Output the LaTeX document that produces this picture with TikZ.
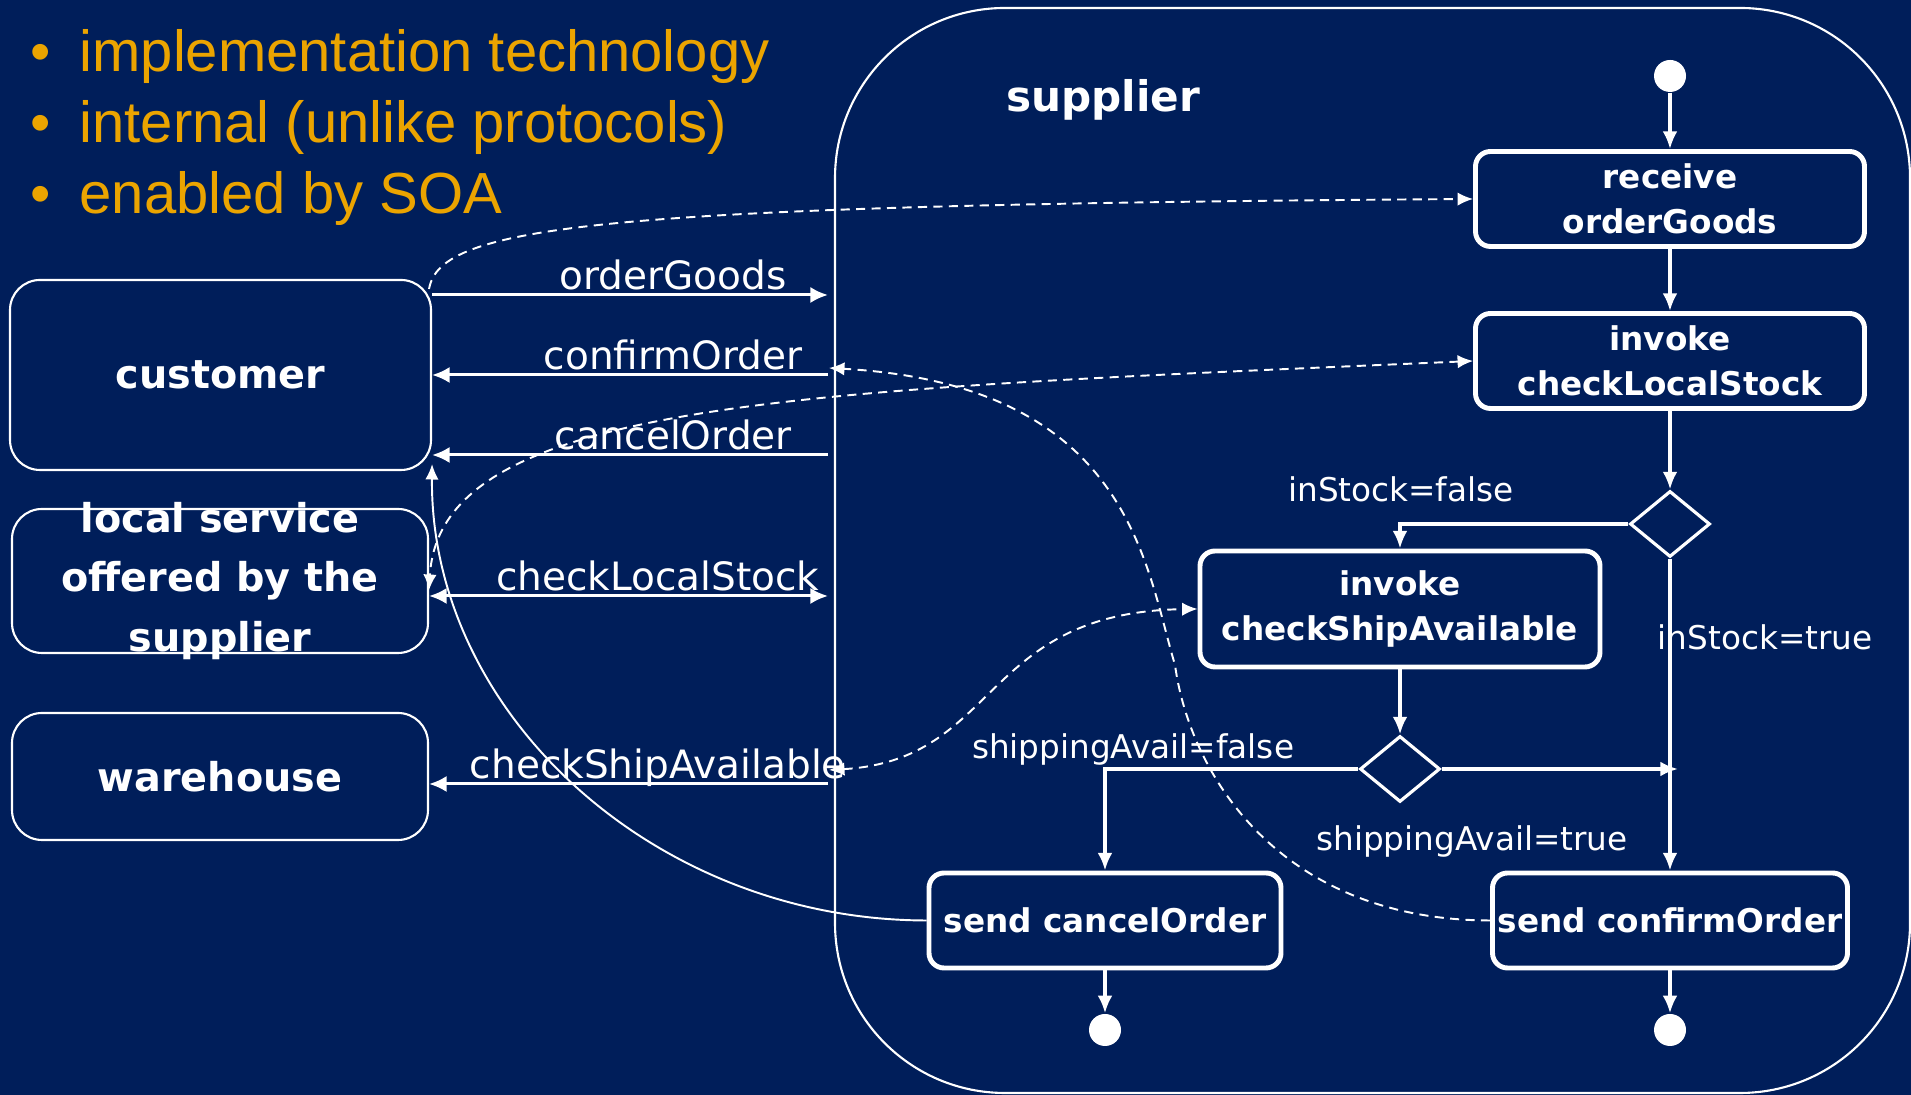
\documentclass[tikz,border=0pt]{standalone}
\usepackage{fontspec}
\setmainfont{DejaVu Sans}
\newfontfamily\bulletfont{Liberation Sans}
\usetikzlibrary{shapes}
\usetikzlibrary{arrows.meta}
\definecolor{navy}{RGB}{0,30,90}
\definecolor{amber}{RGB}{235,164,0}
\tikzstyle{actor}=[rectangle, rounded corners=0.3cm, draw=white, line width=0.6pt, text=white, font=\bfseries\fontsize{11.3}{17}\selectfont, align=center]
\tikzstyle{actortext}=[text=white, font=\bfseries\fontsize{11.3}{17}\selectfont, align=center]
\tikzstyle{activity}=[rectangle, rounded corners=0.15cm, draw=white, line width=1.4pt, text=white, font=\bfseries\fontsize{9.3}{12.8}\selectfont, align=center, inner sep=1pt, minimum height=0.95cm]
\tikzstyle{decision}=[diamond, draw=white, line width=0.9pt, minimum width=0.8cm, minimum height=0.66cm, inner sep=0pt]
\tikzstyle{pseudo}=[circle, fill=white, minimum size=0.32cm, inner sep=0pt]
\tikzstyle{flow}=[draw=white, line width=0.9pt, ->]
\tikzstyle{msg}=[draw=white, line width=0.85pt, shorten >=0.06cm, >={Latex[length=5pt,width=4.6pt]}]
\tikzstyle{msglabel}=[text=white, font=\fontsize{11.1}{13}\selectfont, above, inner sep=1pt, text depth=0pt]
\tikzstyle{guard}=[text=white, font=\fontsize{9.3}{11}\selectfont, anchor=base, inner sep=0pt]
\tikzstyle{link}=[draw=white, line width=0.55pt, dash pattern=on 2.6pt off 1.8pt, >={Latex[length=4.4pt,width=3.8pt]}]
\tikzstyle{thinline}=[draw=white, line width=0.55pt, >={Latex[length=4.4pt,width=3.8pt]}]
\tikzstyle{bulletline}=[text=amber, font=\bulletfont\fontsize{16.5}{20}\selectfont, anchor=base west, inner sep=0pt]

\begin{document}
\begin{tikzpicture}[>={Latex[length=5pt,width=4.2pt]}]
  %\draw [help lines, step=.5] (0,0) grid (19.11,10.95);
  \useasboundingbox (0,0) rectangle (19.11,10.95);
  \fill[navy] (0,0) rectangle (19.11,10.95);

  \node[bulletline] (b1) at (0.30,10.23) {•\hspace{0.286cm}implementation technology};
  \node[bulletline] (b2) at (0.30,9.525) {•\hspace{0.286cm}internal (unlike protocols)};
  \node[bulletline] (b3) at (0.30,8.815) {•\hspace{0.286cm}enabled by SOA};

  \node[actor, minimum width=4.21cm, minimum height=1.9cm] (customer) at (2.205,7.20) {customer};
  \node[actor, minimum width=4.16cm, minimum height=1.44cm, label={[actortext]center:{local service\\offered by the\\supplier}}] (localsrv) at (2.20,5.14) {};
  \node[actor, minimum width=4.16cm, minimum height=1.27cm] (warehouse) at (2.20,3.185) {warehouse};

  \node[draw=white, line width=0.6pt, rounded corners=1.7cm, minimum width=10.75cm, minimum height=10.85cm] (supplier) at (13.725,5.445) {};
  \node[text=white, font=\bfseries\fontsize{12}{14}\selectfont, anchor=base] (suptitle) at (11.03,9.83) {supplier};

  \node[pseudo] (start) at (16.70,10.19) {};
  \node[activity, minimum width=3.89cm] (recv) at (16.70,8.96) {receive\\orderGoods};
  \node[activity, minimum width=3.89cm] (invLS) at (16.70,7.34) {invoke\\checkLocalStock};
  \node[decision] (dec1) at (16.70,5.71) {};
  \node[activity, minimum width=4.0cm, minimum height=1.16cm] (invSA) at (14.00,4.86) {invoke\\checkShipAvailable};
  \node[decision] (dec2) at (14.00,3.26) {};
  \node[activity, minimum width=3.52cm] (sendCancel) at (11.05,1.745) {send cancelOrder};
  \node[activity, minimum width=3.55cm] (sendConfirm) at (16.70,1.745) {send confirmOrder};
  \node[pseudo] (end1) at (11.05,0.65) {};
  \node[pseudo] (end2) at (16.70,0.65) {};
  \coordinate (join) at (16.78,3.26);

  \node[guard] (inFalse) at (14.01,5.93) {inStock=false};
  \node[guard, anchor=base west] (inTrue) at (16.57,4.45) {inStock=true};
  \node[guard] (shipFalse) at (11.33,3.36) {shippingAvail=false};
  \node[guard] (shipTrue) at (14.72,2.44) {shippingAvail=true};

  \draw[flow] (start) -- (recv);
  \draw[flow] (recv) -- (invLS);
  \draw[flow] (invLS) -- (dec1);
  \draw[flow] (dec1.west) -| (invSA.north);
  \draw[flow] (dec1.south) -- (dec1.south |- sendConfirm.north);
  \draw[flow] (invSA) -- (dec2);
  \draw[flow] (dec2.west) -| (sendCancel.north);
  \draw[flow] (dec2.east) -- (join);
  \draw[flow] (sendCancel) -- (end1);
  \draw[flow] (sendConfirm) -- (end2);

  \draw[msg,->] ([yshift=0.8cm]customer.east) -- ([yshift=0.8cm]customer.east -| supplier.west) node[msglabel, pos=0.6] (lblOG) {orderGoods};
  \draw[msg,<-] (customer.east) -- (customer.east -| supplier.west) node[msglabel, pos=0.6] (lblCO) {confirmOrder};
  \draw[msg,<-] ([yshift=-0.8cm]customer.east) -- ([yshift=-0.8cm]customer.east -| supplier.west) node[msglabel, pos=0.6] (lblCA) {cancelOrder};
  \draw[msg,<->] ([yshift=-0.15cm]localsrv.east) -- ([yshift=-0.15cm]localsrv.east -| supplier.west) node[msglabel, pos=0.565] (lblCL) {checkLocalStock};
  \draw[msg,<-] ([yshift=-0.075cm]warehouse.east) -- ([yshift=-0.075cm]warehouse.east -| supplier.west) node[msglabel, pos=0.565] (lblCS) {checkShipAvailable};

  \coordinate (cfTip) at (8.29,7.27);
  \coordinate (csTip) at (8.29,3.25);
  \draw[link,->] ([xshift=-0.03cm,yshift=-0.1cm]customer.north east) .. controls (4.40,8.70) and (6.00,8.90) .. (recv.west);
  \draw[link,<->] (invLS.west) .. controls (8.00,7.05) and (4.40,6.95) .. ([yshift=-0.09cm]localsrv.east);
  \draw[link,->] (sendConfirm.west) .. controls (12.8,1.75) and (11.9,3.2) .. (11.75,4.3) .. controls (11.45,5.3) and (11.3,7.1) .. (cfTip);
  \draw[link,<->] (csTip) .. controls (10.00,3.35) and (9.80,4.83) .. (invSA.west);
  \draw[thinline,->] (sendCancel.west) .. controls (6.54,1.75) and (4.30,3.82) .. ([yshift=0.07cm]customer.south east);

\end{tikzpicture}
\end{document}
